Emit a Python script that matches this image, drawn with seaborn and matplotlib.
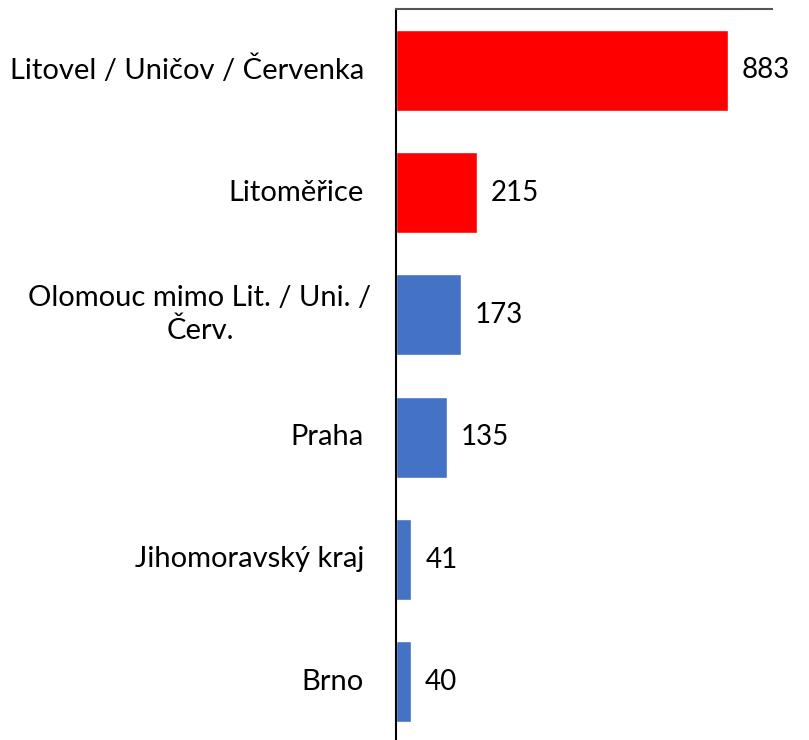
import matplotlib
matplotlib.use("Agg")
from matplotlib import pyplot as plt
from matplotlib.transforms import blended_transform_factory
import seaborn as sns
import pandas as pd

# Chart data
regions = [
    "Litovel / Uničov / Červenka",
    "Litoměřice",
    "Olomouc mimo Lit. / Uni. /\nČerv.",
    "Praha",
    "Jihomoravský kraj",
    "Brno",
]
counts = [883, 215, 173, 135, 41, 40]
bar_colors = ["#FF0000", "#FF0000", "#4472C4", "#4472C4", "#4472C4", "#4472C4"]

sns.set_style("white")
plt.rcParams["font.family"] = ["Lato", "DejaVu Sans"]

df = pd.DataFrame({"region": regions, "count": counts})

fig = plt.figure(figsize=(8.09, 7.40), dpi=100)
ax = fig.add_axes([396 / 809, -3 / 740, (772 - 396) / 809, (740 - 9 + 3) / 740])

sns.barplot(data=df, y="region", x="count", hue="region", palette=bar_colors,
            legend=False, width=0.66, ax=ax, saturation=1, orient="h")

ax.set_xlim(0, 1000)
ax.set_ylim(5.5, -0.5)
ax.set_xlabel("")
ax.set_ylabel("")
ax.set_xticks([])
ax.set_yticks([])
for container in ax.containers:
    ax.bar_label(container, fmt="%d", padding=10, fontsize=20, color="black")

for side in ["right", "bottom"]:
    ax.spines[side].set_visible(False)
ax.spines["left"].set_color("black")
ax.spines["left"].set_linewidth(1.5)
ax.spines["top"].set_color("#555555")
ax.spines["top"].set_linewidth(1.5)

# category labels: single lines right aligned, wrapped ones centred
trans = blended_transform_factory(fig.transFigure, ax.transData)
for i, txt in enumerate(regions):
    if "\n" in txt:
        fig.text(200 / 809, i, txt, transform=trans, ha="center", va="center",
                 fontsize=21, linespacing=1.3, color="black")
    else:
        fig.text(364 / 809, i, txt, transform=trans, ha="right", va="center",
                 fontsize=21, color="black")

fig.savefig("out.png", dpi=100)
